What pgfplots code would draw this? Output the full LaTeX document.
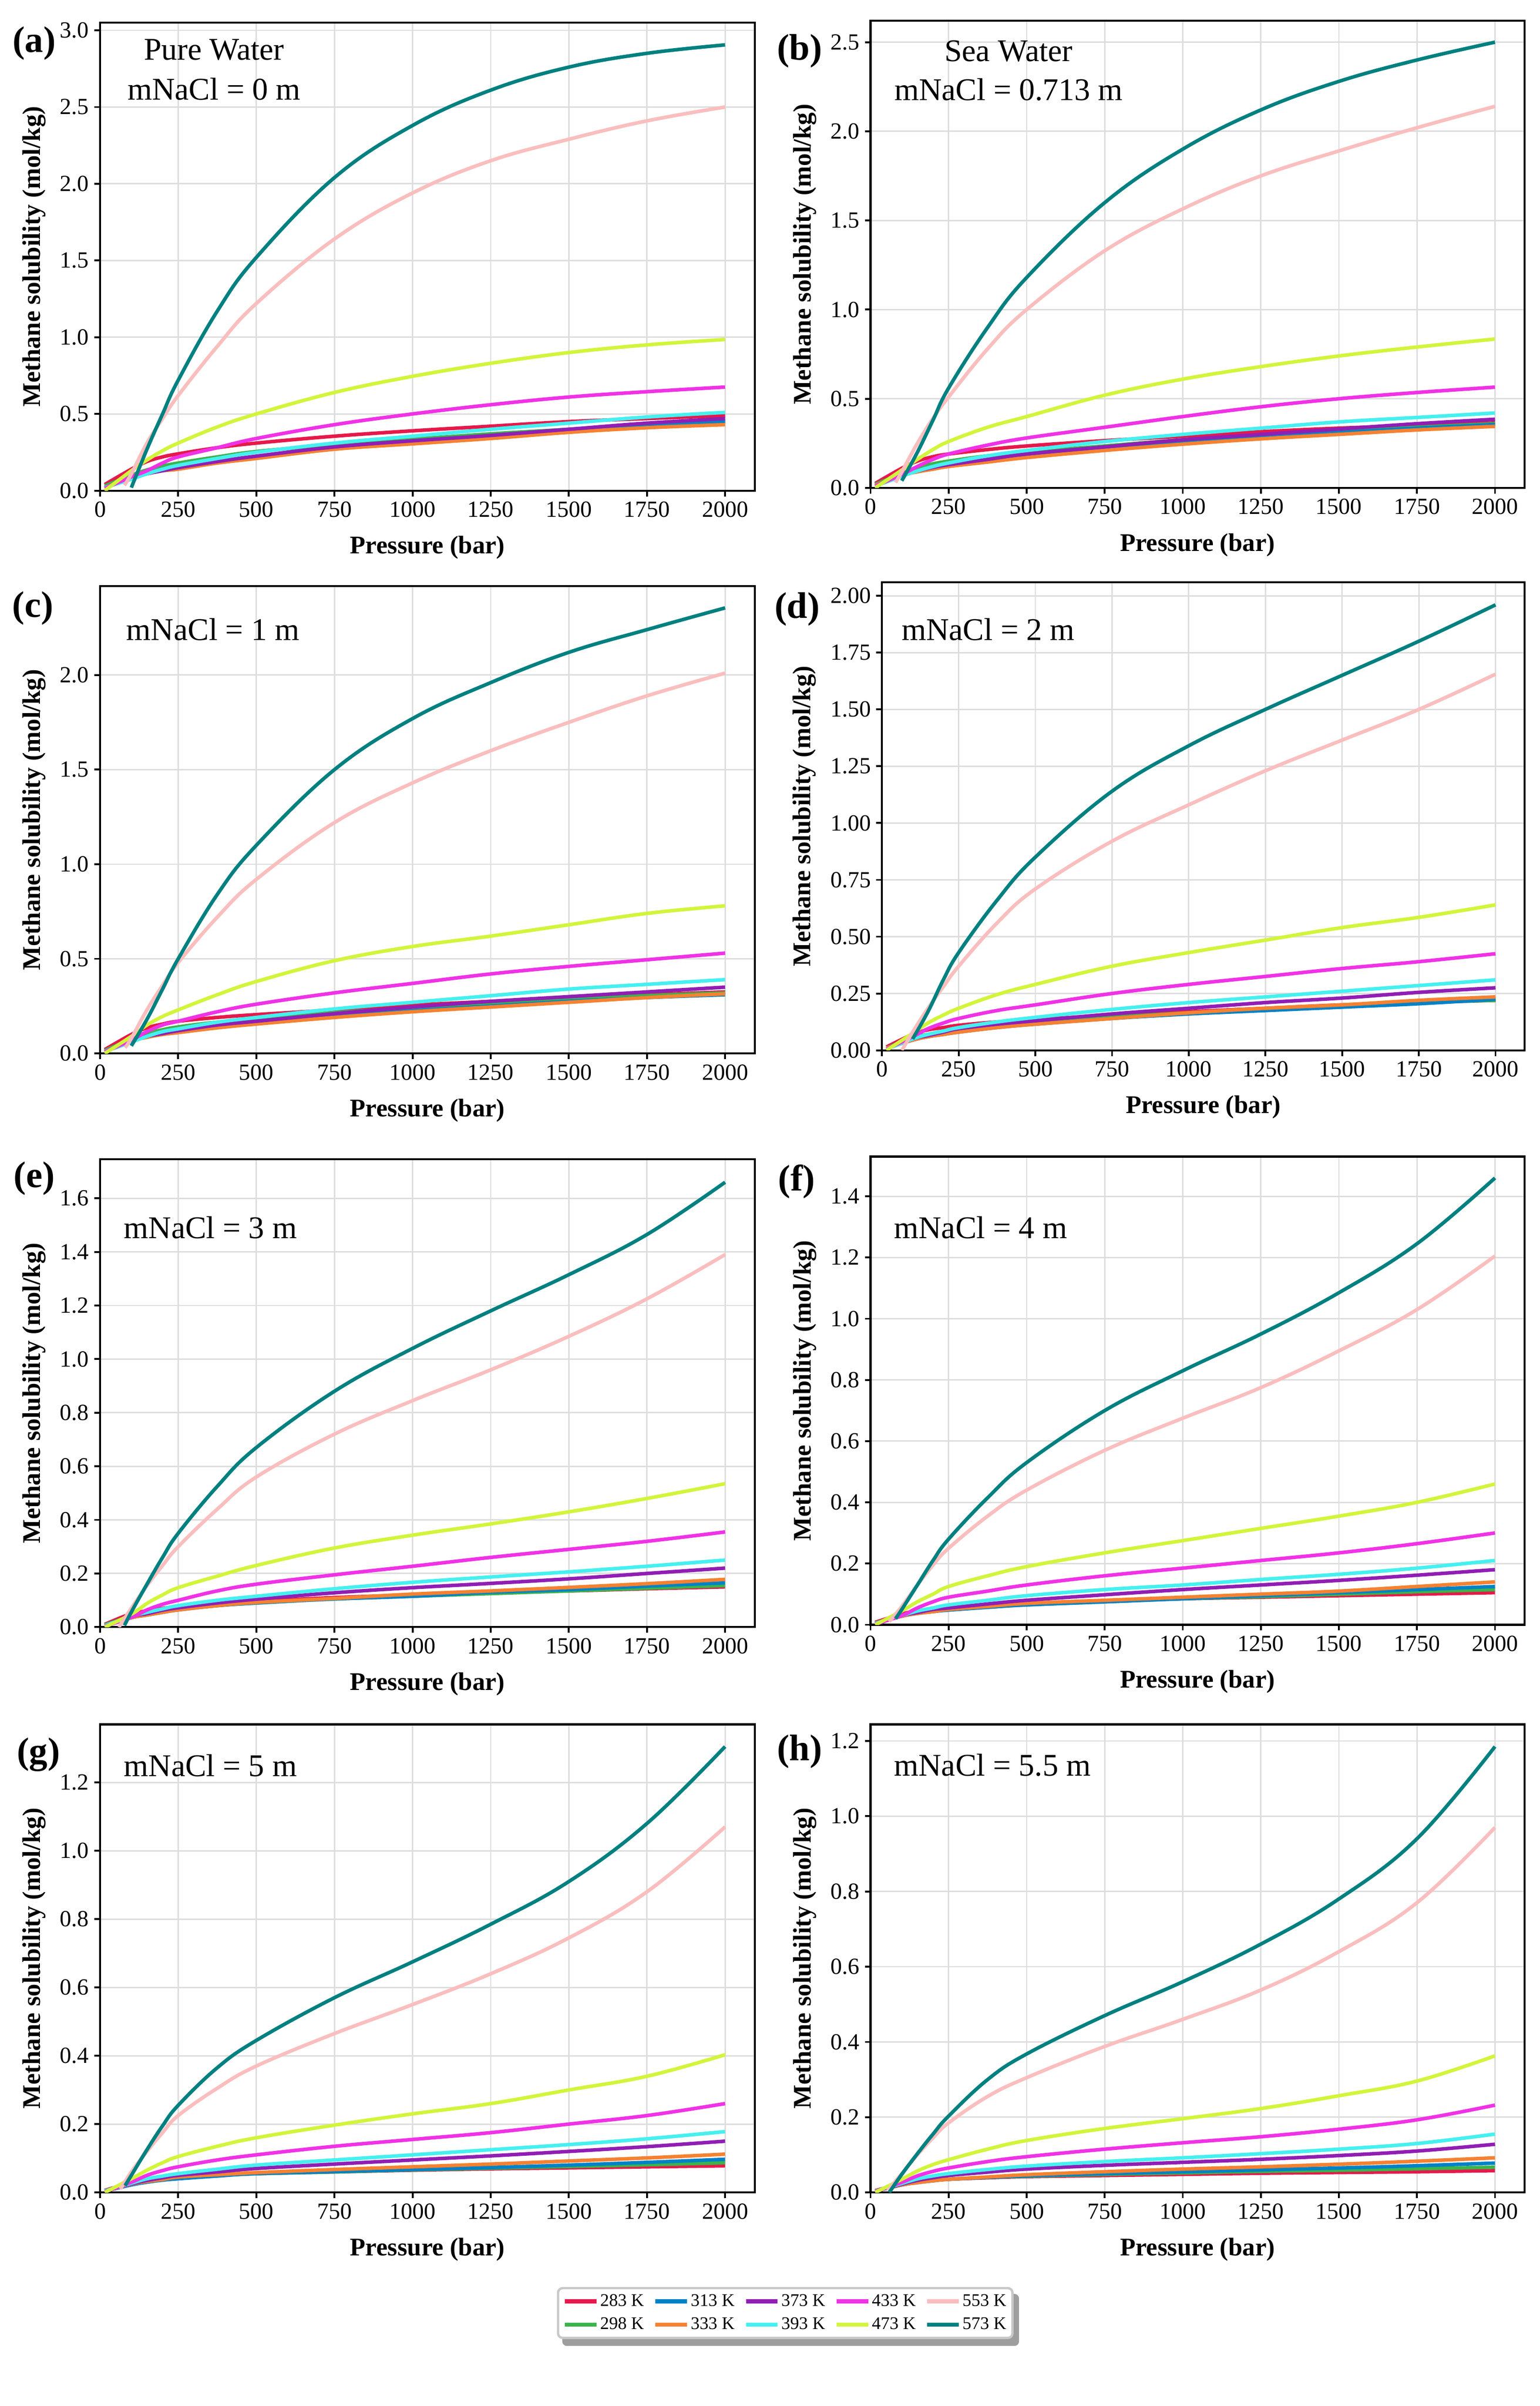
\documentclass[border=0pt]{standalone}
\usepackage{fontspec}
\setmainfont{Liberation Serif}
\usepackage{pgfplots}
\pgfplotsset{compat=1.18}
\usepackage{pgfplotstable}
\usetikzlibrary{backgrounds}

\definecolor{c283}{HTML}{E6194B}
\definecolor{c298}{HTML}{3CB44B}
\definecolor{c313}{HTML}{0082C8}
\definecolor{c333}{HTML}{F58231}
\definecolor{c373}{HTML}{911EB4}
\definecolor{c393}{HTML}{46F0F0}
\definecolor{c433}{HTML}{F032E6}
\definecolor{c473}{HTML}{D2F53C}
\definecolor{c553}{HTML}{FABEBE}
\definecolor{c573}{HTML}{008080}
\definecolor{gridgray}{HTML}{DDDDDD}
\definecolor{legborder}{HTML}{C8C8C8}

% columns: A=283K B=298K C=313K D=333K E=373K F=393K G=433K H=473K I=553K J=573K
\pgfplotstableread{
p A B C D E F G H I J
15 0.040 0.030 0.020 0.020 0.020 0.020 0.015 0.000 nan nan
78 nan nan nan nan nan nan nan nan 0.035 nan
100 0.140 0.100 0.085 0.085 0.080 0.075 0.090 0.130 0.110 0.020
150 0.190 0.135 0.115 0.110 0.110 0.110 0.130 0.200 0.310 0.270
200 0.220 0.160 0.135 0.130 0.130 0.140 0.180 0.260 0.470 0.500
250 0.240 0.180 0.150 0.140 0.150 0.165 0.220 0.310 0.620 0.720
375 0.280 0.220 0.190 0.180 0.190 0.210 0.280 0.415 0.940 1.170
500 0.310 0.255 0.220 0.210 0.225 0.250 0.340 0.500 1.220 1.520
750 0.355 0.300 0.280 0.270 0.285 0.310 0.430 0.640 1.640 2.040
1000 0.390 0.335 0.315 0.305 0.325 0.355 0.500 0.745 1.940 2.380
1250 0.420 0.370 0.350 0.340 0.360 0.400 0.560 0.830 2.150 2.610
1500 0.450 0.400 0.390 0.380 0.400 0.440 0.610 0.900 2.290 2.760
1750 0.470 0.430 0.420 0.410 0.440 0.480 0.645 0.950 2.410 2.850
2000 0.490 0.460 0.450 0.430 0.470 0.510 0.675 0.985 2.500 2.905
}\tabA

\pgfplotstableread{
p A B C D E F G H I J
15 0.025 0.020 0.015 0.015 0.010 0.010 0.010 0.000 nan nan
80 nan nan nan nan nan nan nan nan 0.030 nan
100 0.110 0.080 0.070 0.070 0.070 0.065 0.075 0.100 0.090 0.040
150 0.150 0.115 0.095 0.090 0.095 0.095 0.120 0.160 0.250 0.200
200 0.175 0.135 0.110 0.105 0.115 0.120 0.160 0.215 0.390 0.380
250 0.190 0.150 0.125 0.120 0.130 0.140 0.190 0.260 0.510 0.560
375 0.215 0.180 0.155 0.145 0.160 0.180 0.240 0.340 0.780 0.900
500 0.235 0.200 0.180 0.170 0.190 0.210 0.280 0.400 1.000 1.180
750 0.265 0.235 0.220 0.210 0.230 0.260 0.340 0.520 1.330 1.600
1000 0.290 0.270 0.255 0.245 0.270 0.300 0.400 0.610 1.565 1.900
1250 0.315 0.295 0.285 0.275 0.300 0.335 0.455 0.680 1.750 2.120
1500 0.335 0.320 0.310 0.300 0.330 0.370 0.500 0.740 1.890 2.280
1750 0.350 0.340 0.335 0.325 0.360 0.395 0.535 0.790 2.020 2.400
2000 0.365 0.360 0.355 0.345 0.385 0.420 0.565 0.835 2.140 2.500
}\tabB

\pgfplotstableread{
p A B C D E F G H I J
15 0.020 0.015 0.010 0.010 0.010 0.010 0.008 0.000 nan nan
80 nan nan nan nan nan nan nan nan 0.030 nan
100 0.100 0.075 0.065 0.065 0.065 0.060 0.070 0.090 0.080 0.040
150 0.135 0.105 0.090 0.085 0.090 0.090 0.115 0.150 0.230 0.180
200 0.155 0.125 0.105 0.100 0.105 0.115 0.150 0.195 0.360 0.340
250 0.170 0.140 0.115 0.110 0.120 0.130 0.170 0.230 0.480 0.500
375 0.190 0.165 0.140 0.135 0.150 0.165 0.220 0.310 0.720 0.840
500 0.205 0.180 0.160 0.155 0.170 0.190 0.260 0.380 0.920 1.100
750 0.230 0.215 0.195 0.190 0.210 0.235 0.320 0.490 1.220 1.500
1000 0.255 0.240 0.225 0.220 0.245 0.270 0.370 0.565 1.430 1.770
1250 0.275 0.265 0.250 0.245 0.275 0.305 0.420 0.620 1.600 1.960
1500 0.295 0.285 0.275 0.270 0.300 0.340 0.460 0.680 1.750 2.120
1750 0.310 0.305 0.295 0.295 0.325 0.365 0.495 0.740 1.890 2.240
2000 0.325 0.320 0.310 0.315 0.350 0.390 0.530 0.780 2.010 2.355
}\tabC

\pgfplotstableread{
p A B C D E F G H I J
15 0.015 0.010 0.010 0.010 0.005 0.005 0.005 0.000 nan nan
65 nan nan nan nan nan nan nan nan 0.000 nan
100 0.070 0.055 0.045 0.045 0.050 0.050 0.060 0.075 0.080 0.050
150 0.090 0.070 0.060 0.060 0.065 0.070 0.095 0.120 0.185 0.170
200 0.100 0.080 0.070 0.070 0.080 0.085 0.120 0.155 0.280 0.310
250 0.110 0.090 0.080 0.080 0.095 0.100 0.140 0.185 0.370 0.430
375 0.125 0.110 0.100 0.100 0.115 0.125 0.175 0.245 0.560 0.660
500 0.135 0.120 0.115 0.115 0.130 0.145 0.200 0.290 0.710 0.850
750 0.155 0.145 0.140 0.140 0.160 0.180 0.250 0.370 0.920 1.140
1000 0.170 0.165 0.160 0.165 0.185 0.210 0.290 0.430 1.080 1.340
1250 0.185 0.180 0.175 0.185 0.210 0.235 0.325 0.485 1.230 1.500
1500 0.200 0.195 0.190 0.200 0.230 0.260 0.360 0.540 1.365 1.650
1750 0.210 0.210 0.205 0.220 0.255 0.285 0.390 0.585 1.500 1.800
2000 0.220 0.220 0.225 0.235 0.275 0.310 0.425 0.640 1.655 1.960
}\tabD

\pgfplotstableread{
p A B C D E F G H I J
15 0.010 0.008 0.005 0.005 0.005 0.005 0.003 0.000 nan nan
60 nan nan nan nan nan nan nan nan 0.000 nan
78 nan nan nan nan nan nan nan nan nan 0.006
100 0.050 0.040 0.035 0.035 0.040 0.040 0.036 0.048 0.070 0.056
150 0.060 0.050 0.045 0.045 0.050 0.055 0.064 0.088 0.155 0.160
200 0.070 0.058 0.055 0.055 0.063 0.068 0.085 0.120 0.230 0.260
250 0.076 0.066 0.064 0.064 0.072 0.080 0.100 0.147 0.300 0.350
375 0.088 0.080 0.080 0.080 0.090 0.100 0.135 0.190 0.440 0.525
500 0.096 0.090 0.090 0.092 0.104 0.115 0.160 0.230 0.560 0.670
750 0.110 0.105 0.105 0.107 0.128 0.143 0.195 0.295 0.720 0.880
1000 0.120 0.115 0.115 0.123 0.147 0.167 0.227 0.343 0.845 1.040
1250 0.130 0.125 0.130 0.135 0.163 0.187 0.260 0.385 0.960 1.180
1500 0.135 0.135 0.140 0.148 0.180 0.206 0.290 0.430 1.085 1.315
1750 0.143 0.145 0.153 0.162 0.200 0.227 0.320 0.480 1.225 1.465
2000 0.150 0.155 0.165 0.178 0.220 0.250 0.355 0.535 1.390 1.660
}\tabE

\pgfplotstableread{
p A B C D E F G H I J
15 0.008 0.006 0.005 0.005 0.004 0.004 0.002 0.000 nan nan
60 nan nan nan nan nan nan nan nan 0.010 nan
80 nan nan nan nan nan nan nan nan nan 0.020
100 0.035 0.030 0.028 0.028 0.030 0.030 0.030 0.045 0.060 0.050
150 0.045 0.040 0.037 0.037 0.040 0.045 0.055 0.075 0.130 0.130
200 0.050 0.045 0.043 0.043 0.050 0.055 0.075 0.100 0.195 0.210
250 0.055 0.050 0.048 0.050 0.055 0.065 0.090 0.125 0.250 0.280
375 0.063 0.058 0.057 0.060 0.068 0.080 0.110 0.160 0.355 0.415
500 0.070 0.065 0.065 0.070 0.080 0.095 0.130 0.190 0.440 0.530
750 0.078 0.075 0.075 0.080 0.098 0.115 0.160 0.235 0.570 0.700
1000 0.085 0.085 0.085 0.090 0.115 0.130 0.185 0.275 0.675 0.830
1250 0.090 0.092 0.095 0.100 0.130 0.148 0.210 0.315 0.775 0.950
1500 0.095 0.100 0.105 0.110 0.145 0.165 0.235 0.355 0.895 1.085
1750 0.100 0.108 0.115 0.125 0.162 0.185 0.265 0.400 1.030 1.245
2000 0.105 0.115 0.125 0.140 0.180 0.210 0.300 0.460 1.205 1.460
}\tabF

\pgfplotstableread{
p A B C D E F G H I J
15 0.006 0.005 0.004 0.004 0.004 0.004 0.002 0.000 nan nan
65 nan nan nan nan nan nan nan nan 0.010 nan
80 nan nan nan nan nan nan nan nan nan 0.020
100 0.028 0.025 0.022 0.024 0.025 0.027 0.030 0.040 0.060 0.050
150 0.036 0.032 0.030 0.032 0.035 0.040 0.050 0.065 0.120 0.125
200 0.041 0.038 0.036 0.038 0.043 0.048 0.064 0.087 0.175 0.195
250 0.045 0.043 0.040 0.045 0.050 0.055 0.075 0.105 0.225 0.255
375 0.050 0.050 0.048 0.052 0.060 0.068 0.095 0.135 0.305 0.365
500 0.055 0.055 0.055 0.058 0.070 0.080 0.110 0.160 0.370 0.445
750 0.060 0.060 0.061 0.067 0.083 0.095 0.135 0.197 0.465 0.570
1000 0.065 0.066 0.067 0.075 0.095 0.110 0.155 0.230 0.550 0.675
1250 0.069 0.071 0.073 0.083 0.107 0.125 0.175 0.260 0.640 0.785
1500 0.072 0.076 0.080 0.092 0.120 0.140 0.200 0.300 0.745 0.910
1750 0.075 0.081 0.088 0.101 0.134 0.157 0.225 0.340 0.880 1.080
2000 0.078 0.087 0.097 0.112 0.150 0.178 0.260 0.403 1.070 1.305
}\tabG

\pgfplotstableread{
p A B C D E F G H I J
15 0.005 0.004 0.004 0.004 0.003 0.003 0.002 0.000 nan nan
55 nan nan nan nan nan nan nan nan 0.005 nan
60 nan nan nan nan nan nan nan nan nan 0.000
100 0.022 0.020 0.020 0.020 0.022 0.024 0.027 0.035 0.050 0.048
150 0.028 0.027 0.026 0.026 0.032 0.036 0.044 0.057 0.100 0.103
200 0.032 0.031 0.031 0.031 0.039 0.044 0.056 0.074 0.145 0.155
250 0.035 0.035 0.035 0.035 0.045 0.050 0.065 0.087 0.185 0.203
375 0.039 0.040 0.040 0.041 0.054 0.061 0.082 0.115 0.255 0.300
500 0.042 0.043 0.044 0.047 0.062 0.070 0.095 0.138 0.305 0.368
750 0.045 0.048 0.050 0.055 0.072 0.082 0.115 0.170 0.388 0.470
1000 0.048 0.052 0.055 0.062 0.080 0.092 0.132 0.196 0.460 0.560
1250 0.051 0.056 0.060 0.068 0.088 0.103 0.148 0.223 0.538 0.660
1500 0.053 0.059 0.065 0.075 0.098 0.115 0.168 0.257 0.640 0.780
1750 0.055 0.063 0.071 0.083 0.110 0.130 0.193 0.296 0.770 0.940
2000 0.058 0.067 0.078 0.092 0.128 0.155 0.232 0.363 0.970 1.185
}\tabH

\newcommand{\allcurves}[1]{%
  \addplot[c283] table[x=p,y=A]{#1};
  \addplot[c298] table[x=p,y=B]{#1};
  \addplot[c313] table[x=p,y=C]{#1};
  \addplot[c333] table[x=p,y=D]{#1};
  \addplot[c373] table[x=p,y=E]{#1};
  \addplot[c393] table[x=p,y=F]{#1};
  \addplot[c433] table[x=p,y=G]{#1};
  \addplot[c473] table[x=p,y=H]{#1};
  \addplot[c553] table[x=p,y=I]{#1};
  \addplot[c573] table[x=p,y=J]{#1};
}

\tikzset{
  plab/.style={font=\fontsize{24}{28}\selectfont\bfseries, anchor=center, inner sep=0pt},
  ann/.style={font=\fontsize{20.5}{24}\selectfont, inner sep=0pt},
}

\pgfplotsset{
  panel/.style={
    scale only axis, anchor=north west,
    xmin=0, xmax=2095, ymin=0,
    xtick={0,250,500,750,1000,1250,1500,1750,2000},
    tick align=outside, xtick pos=bottom, ytick pos=left,
    major tick length=3.7pt,
    tick style={black, line width=1.2pt},
    axis line style={line width=1.3pt},
    grid=major, major grid style={gridgray, line width=0.9pt},
    tick label style={font=\fontsize{15}{18}\selectfont},
    /pgf/number format/assume math mode=true,
    xticklabel style={/pgf/number format/1000 sep={}},
    yticklabel style={/pgf/number format/.cd, fixed, fixed zerofill, precision=1},
    xlabel={Pressure (bar)}, ylabel={Methane solubility (mol/kg)},
    label style={font=\fontsize{16.5}{19}\selectfont\bfseries},
    xlabel style={at={(axis description cs:0.5,0)}, anchor=center, yshift=-37pt},
    ylabel style={at={(axis description cs:-0.1007,0.5)}, anchor=center},
    clip mode=individual,
    every axis plot/.append style={line width=2.3pt, smooth, tension=0.65, mark=none},
  }
}

\begin{document}
\begin{tikzpicture}
\path[use as bounding box] (0,0) rectangle (1000pt,-1562.3pt);

% (a)
\begin{axis}[panel, at={(65pt,-14.7pt)}, width=425.2pt, height=303.9pt,
  ymax=3.05, ytick={0,0.5,1.0,1.5,2.0,2.5,3.0}]
\allcurves{\tabA}
\node[plab] at ([xshift=-42.8pt,yshift=-13.3pt]rel axis cs:0,1) {(a)};
\node[ann, anchor=center] at ([xshift=74pt,yshift=-17.6pt]rel axis cs:0,1) {Pure Water};
\node[ann, anchor=center] at ([xshift=74pt,yshift=-43pt]rel axis cs:0,1) {mNaCl = 0 m};
\end{axis}

% (b)
\begin{axis}[panel, at={(565.4pt,-13.5pt)}, width=424.8pt, height=303.3pt,
  ymax=2.62, ytick={0,0.5,1.0,1.5,2.0,2.5}]
\allcurves{\tabB}
\node[plab] at ([xshift=-46pt,yshift=-19.6pt]rel axis cs:0,1) {(b)};
\node[ann, anchor=center] at ([xshift=89.6pt,yshift=-19.7pt]rel axis cs:0,1) {Sea Water};
\node[ann, anchor=center] at ([xshift=89.6pt,yshift=-44.6pt]rel axis cs:0,1) {mNaCl = 0.713 m};
\end{axis}

% (c)
\begin{axis}[panel, at={(65pt,-380.6pt)}, width=425.2pt, height=303.4pt,
  ymax=2.47, ytick={0,0.5,1.0,1.5,2.0}]
\allcurves{\tabC}
\node[plab] at ([xshift=-43.6pt,yshift=-14.3pt]rel axis cs:0,1) {(c)};
\node[ann, anchor=west] at ([xshift=16.9pt,yshift=-28pt]rel axis cs:0,1) {mNaCl = 1 m};
\end{axis}

% (d)
\begin{axis}[panel, at={(572.8pt,-378pt)}, width=417.4pt, height=304pt,
  ymax=2.06, ytick={0,0.25,0.5,0.75,1.0,1.25,1.5,1.75,2.0},
  yticklabel style={/pgf/number format/.cd, fixed, fixed zerofill, precision=2},
  ylabel style={at={(axis description cs:-0.121,0.5)}, anchor=center}]
\allcurves{\tabD}
\node[plab] at ([xshift=-55pt,yshift=-17.6pt]rel axis cs:0,1) {(d)};
\node[ann, anchor=west] at ([xshift=12.6pt,yshift=-30.6pt]rel axis cs:0,1) {mNaCl = 2 m};
\end{axis}

% (e)
\begin{axis}[panel, at={(65pt,-752.7pt)}, width=425.2pt, height=303.8pt,
  ymax=1.746, ytick={0,0.2,0.4,0.6,0.8,1.0,1.2,1.4,1.6}]
\allcurves{\tabE}
\node[plab] at ([xshift=-42.8pt,yshift=-12.4pt]rel axis cs:0,1) {(e)};
\node[ann, anchor=west] at ([xshift=15.3pt,yshift=-44.3pt]rel axis cs:0,1) {mNaCl = 3 m};
\end{axis}

% (f)
\begin{axis}[panel, at={(565.4pt,-751pt)}, width=424.8pt, height=304pt,
  ymax=1.53, ytick={0,0.2,0.4,0.6,0.8,1.0,1.2,1.4}]
\allcurves{\tabF}
\node[plab] at ([xshift=-48pt,yshift=-16.4pt]rel axis cs:0,1) {(f)};
\node[ann, anchor=west] at ([xshift=15.1pt,yshift=-46pt]rel axis cs:0,1) {mNaCl = 4 m};
\end{axis}

% (g)
\begin{axis}[panel, at={(65pt,-1119.7pt)}, width=425.2pt, height=303.9pt,
  ymax=1.37, ytick={0,0.2,0.4,0.6,0.8,1.0,1.2}]
\allcurves{\tabG}
\node[plab] at ([xshift=-40pt,yshift=-19.5pt]rel axis cs:0,1) {(g)};
\node[ann, anchor=west] at ([xshift=15.3pt,yshift=-26.6pt]rel axis cs:0,1) {mNaCl = 5 m};
\end{axis}

% (h)
\begin{axis}[panel, at={(565.4pt,-1119.7pt)}, width=424.8pt, height=303.9pt,
  ymax=1.244, ytick={0,0.2,0.4,0.6,0.8,1.0,1.2}]
\allcurves{\tabH}
\node[plab] at ([xshift=-46pt,yshift=-17.5pt]rel axis cs:0,1) {(h)};
\node[ann, anchor=west] at ([xshift=15.1pt,yshift=-26.6pt]rel axis cs:0,1) {mNaCl = 5.5 m};
\end{axis}

% legend
\begin{axis}[hide axis, scale only axis, width=1pt, height=1pt,
  xmin=0, xmax=1, ymin=0, ymax=1, at={(510pt,-1485pt)}, anchor=north,
  legend columns=5,
  legend style={name=theleg, at={(0.5,1)}, anchor=north, draw=legborder, line width=1.5pt,
    rounded corners=3pt, fill=white,
    font=\fontsize{11.5}{13}\selectfont, inner xsep=3pt, inner ysep=3pt,
    row sep=4pt, nodes={inner sep=1pt},
    /tikz/every even column/.append style={column sep=5pt}},
  legend image code/.code={\draw[#1, line width=2.8pt, rounded corners=0pt] (0pt,0pt) -- (20.6pt,0pt);},
]
\addlegendimage{c283}\addlegendentry{283 K}
\addlegendimage{c313}\addlegendentry{313 K}
\addlegendimage{c373}\addlegendentry{373 K}
\addlegendimage{c433}\addlegendentry{433 K}
\addlegendimage{c553}\addlegendentry{553 K}
\addlegendimage{c298}\addlegendentry{298 K}
\addlegendimage{c333}\addlegendentry{333 K}
\addlegendimage{c393}\addlegendentry{393 K}
\addlegendimage{c473}\addlegendentry{473 K}
\addlegendimage{c573}\addlegendentry{573 K}
\end{axis}
\begin{pgfonlayer}{background}
\fill[black!38, rounded corners=3pt] ([xshift=3.5pt,yshift=-4.5pt]theleg.south west) rectangle ([xshift=3.5pt,yshift=-4.5pt]theleg.north east);
\end{pgfonlayer}
\end{tikzpicture}
\end{document}
